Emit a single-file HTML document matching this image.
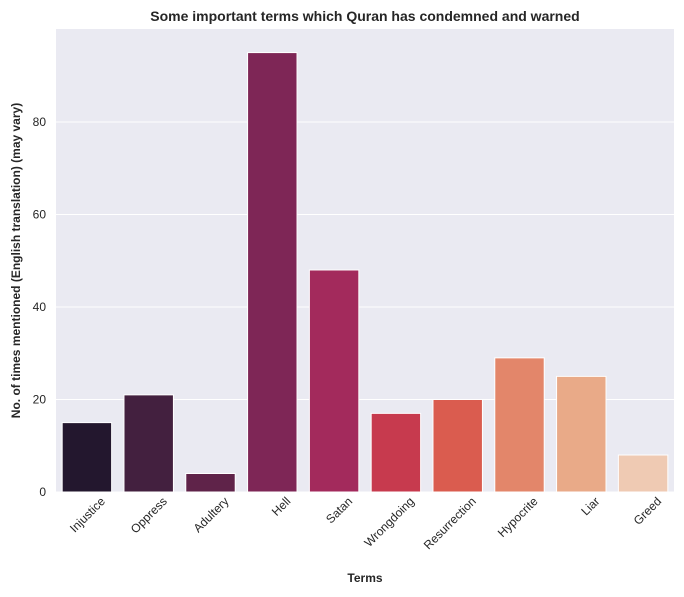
<!DOCTYPE html>
<html><head><meta charset="utf-8"><style>
body{margin:0;background:#fff;}
svg{display:block;font-family:"Liberation Sans",Arial,sans-serif;}
</style></head><body>
<svg id="chart" width="684" height="597"></svg>
<script>
const categories=["Injustice","Oppress","Adultery","Hell","Satan","Wrongdoing","Resurrection","Hypocrite","Liar","Greed"];
const values=[15,21,4,95,48,17,20,29,25,8];
const colors=["#23172e","#43203f","#5f2349","#7e2656","#a32a5c","#c73a4e","#da5c4f","#e3866a","#e9aa88","#efcab3"];
const yTicks=[0,20,40,60,80];
const L=56,R=674,T=29,B=492,YMAX=100.1;
const NS="http://www.w3.org/2000/svg";
const svg=document.getElementById('chart');
function y(v){return B-(v/YMAX)*(B-T);}
const band=(R-L)/categories.length;
function x(i){return L+band*i;}
function el(tag,attrs,parent){const e=document.createElementNS(NS,tag);for(const k in attrs)e.setAttribute(k,attrs[k]);(parent||svg).appendChild(e);return e;}
const bg=el('rect',{x:L,y:T,width:R-L,height:B-T,fill:'#eaeaf2'});


yTicks.forEach(t=>{
  const g=el('line',{x1:L,x2:R,y1:y(t),y2:y(t),stroke:'#fff','stroke-width':1});
  
  
  const lb=el('text',{x:L-10,y:y(t)+4,'text-anchor':'end','font-size':12,fill:'#262626'});
  lb.textContent=t;
  
  
});
categories.forEach((c,i)=>{
  const bw=band*0.8;
  const r=el('rect',{x:x(i)+band*0.1,y:y(values[i]),width:bw,height:B-y(values[i]),fill:colors[i],stroke:'#fff','stroke-width':1});
  
  
  const cx=x(i)+band/2+19, cy=B+10;
  const lb=el('text',{x:cx,y:cy,'text-anchor':'end','font-size':12,fill:'#262626',transform:`rotate(-45 ${cx} ${cy})`});
  lb.textContent=c;
  
  
});
const title=el('text',{x:(L+R)/2,y:21,'text-anchor':'middle','font-size':14,'font-weight':'bold',fill:'#262626'});
title.textContent="Some important terms which Quran has condemned and warned";


const xt=el('text',{x:(L+R)/2,y:582,'text-anchor':'middle','font-size':12,'font-weight':'bold',fill:'#262626'});
xt.textContent="Terms";


const yt=el('text',{x:20,y:(T+B)/2,'text-anchor':'middle','font-size':12,'font-weight':'bold',fill:'#262626',transform:`rotate(-90 20 ${(T+B)/2})`});
yt.textContent="No. of times mentioned (English translation) (may vary)";


</script>
</body></html>
